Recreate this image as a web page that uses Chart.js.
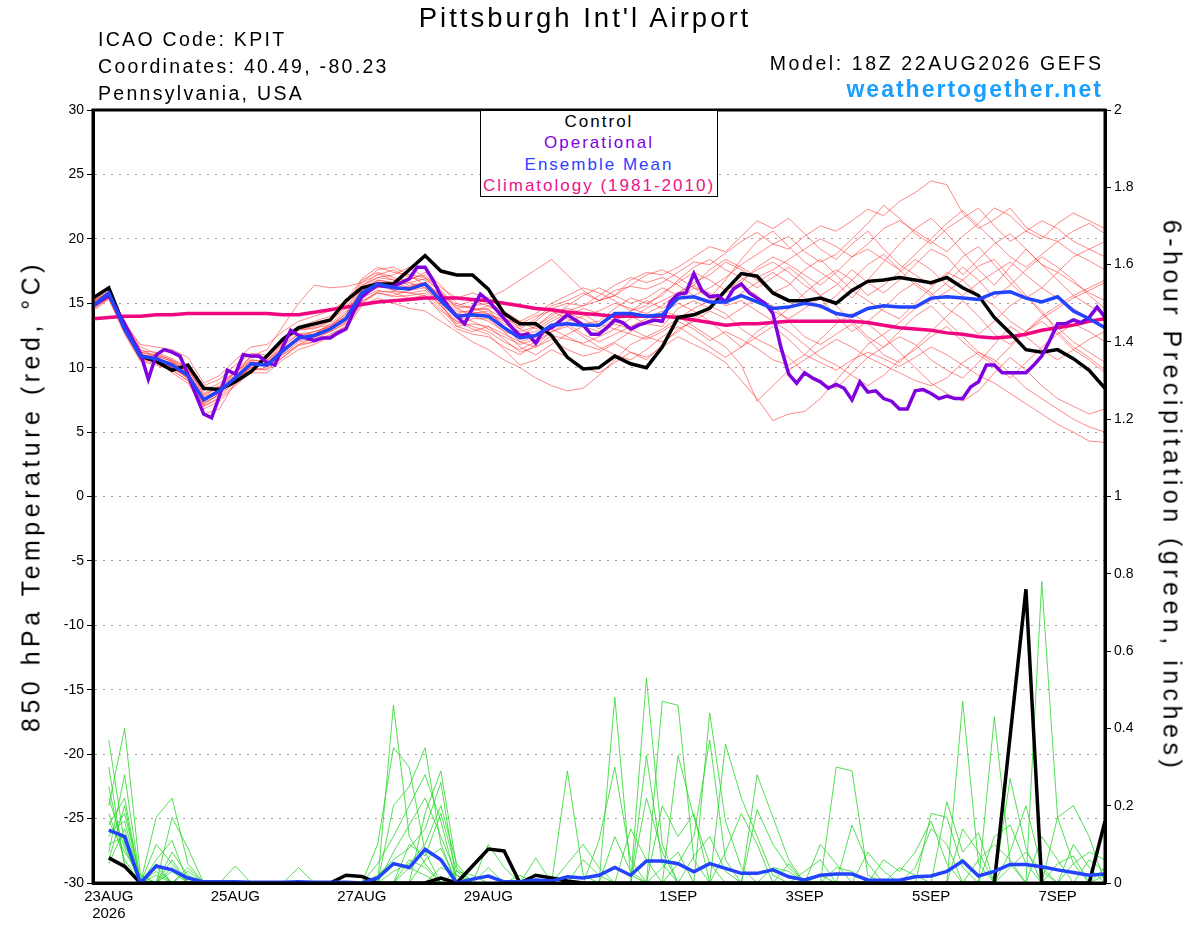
<!DOCTYPE html>
<html>
<head>
<meta charset="utf-8">
<title>Pittsburgh Int'l Airport - GEFS</title>
<script src="https://cdn.jsdelivr.net/npm/chart.js"></script>
<style>
body{margin:0;background:#fff;font-family:"Liberation Sans",Arial,Helvetica,sans-serif;}
#wrap{position:relative;width:1200px;height:927px;overflow:hidden;}
#myChart{position:absolute;left:0;top:0;}
.txt{position:absolute;white-space:nowrap;color:#000;}
.vt{font-size:25px;line-height:29px;}
#legendBox{position:absolute;left:480px;top:110px;width:236px;height:85px;border:1.5px solid #000;background:#fff;text-align:center;font-size:17px;line-height:21.4px;letter-spacing:2px;}
</style>
</head>
<body>
<div id="wrap">
<canvas id="myChart" width="1200" height="927"></canvas>
<div class="txt" style="left:335px;width:500px;text-align:center;top:4px;font-size:27.5px;line-height:28px;letter-spacing:3px">Pittsburgh Int'l Airport</div>
<div class="txt" style="left:98px;top:25.5px;font-size:19.5px;line-height:27px;letter-spacing:2.3px">ICAO Code: KPIT<br>Coordinates: 40.49, -80.23<br>Pennsylvania, USA</div>
<div class="txt" style="right:96.5px;top:50px;font-size:19.5px;line-height:27px;letter-spacing:2.6px;text-align:right">Model: 18Z 22AUG2026 GEFS</div>
<div class="txt" style="right:97px;top:76px;font-size:23px;line-height:27px;letter-spacing:2px;font-weight:bold;color:#1a9fff">weathertogether.net</div>
<div class="txt vt" style="left:31px;top:496px;transform:translate(-50%,-50%) rotate(-90deg);letter-spacing:4.5px">850 hPa Temperature (red, °C)</div>
<div class="txt vt" style="left:1172px;top:496px;transform:translate(-50%,-50%) rotate(90deg);letter-spacing:4.5px">6-hour Precipitation (green, inches)</div>
<div id="legendBox">
<div>Control</div>
<div style="color:#8000e0">Operational</div>
<div style="color:#2f3fff">Ensemble Mean</div>
<div style="color:#ee1188">Climatology (1981-2010)</div>
</div>
</div>
<script>
// hours after 18Z 22AUG2026
const xTickHours = [6, 54, 102, 150, 222, 270, 318, 366];
const xTickLabels = [['23AUG','2026'], '25AUG', '27AUG', '29AUG', '1SEP', '3SEP', '5SEP', '7SEP'];

// 850 hPa temperature, every 6 h
const controlTemp = [15.4,16.2,13.1,10.9,10.5,9.8,10.2,8.4,8.3,8.9,9.7,10.9,12.2,13.1,13.4,13.7,15.2,
  16.2,16.5,16.5,17.6,18.7,17.5,17.2,17.2,
  16.1,14.2,13.4,13.4,12.5,10.8,9.9,10.0,10.9,10.3,10.0,11.6,
  13.9,14.1,14.6,16.0,17.3,17.1,15.8,15.2,
  15.2,15.4,15.0,16.0,16.7,16.8,17.0,16.8,
  16.6,17.0,16.2,15.6,13.9,12.7,11.4,11.2,11.4,10.7,9.8,8.4];
const meanTemp = [14.8,15.8,13.0,10.9,10.7,10.2,9.4,7.5,8.2,9.2,10.3,10.2,11.3,12.3,12.5,13.0,13.8,
  15.8,16.5,16.2,16.1,16.5,15.2,14.0,14.1,
  14.0,13.1,12.3,12.5,13.3,13.4,13.3,13.3,14.2,14.2,14.0,14.1,
  15.4,15.5,15.1,15.1,15.6,15.1,14.6,14.7,
  15.0,14.8,14.2,14.0,14.6,14.8,14.7,14.7,
  15.4,15.5,15.4,15.3,15.8,15.9,15.4,15.1,15.5,14.4,13.8,13.1];
const climTemp = [13.8,13.9,14.0,14.0,14.1,14.1,14.2,14.2,14.2,14.2,14.2,14.2,14.1,14.1,14.3,14.5,14.7,
  14.9,15.1,15.2,15.3,15.4,15.4,15.4,15.3,
  15.2,15.0,14.8,14.6,14.5,14.3,14.2,14.1,14.0,14.0,14.0,14.0,
  13.9,13.7,13.5,13.3,13.4,13.4,13.5,13.6,
  13.6,13.6,13.6,13.6,13.5,13.3,13.1,13.0,
  12.9,12.7,12.6,12.4,12.3,12.4,12.6,12.9,13.1,13.3,13.6,13.8];
// operational run, every 3 h
const operTemp = [14.8,15.2,15.6,14.5,13.4,12.2,11.1,9.1,11.0,11.4,11.2,10.9,9.5,7.9,6.4,6.1,7.8,9.8,9.5,11.0,
  10.9,10.9,10.4,10.2,11.6,12.9,12.5,12.3,12.1,12.3,12.3,12.7,13.0,14.4,15.5,16.0,16.4,16.3,16.3,16.6,
  16.9,17.8,17.8,16.8,15.6,14.7,14.0,13.4,14.6,15.7,15.2,14.5,13.8,13.1,12.5,12.6,11.9,12.9,13.1,13.6,
  14.1,13.7,13.3,12.6,12.6,13.1,13.7,13.5,13.0,13.3,13.5,13.7,13.6,15.1,15.7,15.8,17.3,16.0,15.5,15.6,
  15.1,16.1,16.5,15.8,15.4,15.0,14.2,11.6,9.5,8.8,9.6,9.2,8.9,8.4,8.7,8.4,7.5,8.9,8.1,8.2,
  7.6,7.4,6.8,6.8,8.2,8.3,8.0,7.6,7.8,7.6,7.6,8.5,8.9,10.2,10.2,9.6,9.6,9.6,9.6,10.2,
  10.9,12.1,13.4,13.4,13.7,13.5,13.9,14.7,13.9];
// ensemble members, every 6 h
const memberTemp = [
  [15.0,15.6,13.3,11.2,11.0,10.6,9.9,8.0,8.6,9.8,10.9,10.8,12.0,13.0,13.2,13.6,14.6,
   16.4,17.0,16.8,16.9,17.2,16.0,14.8,14.6,
   14.5,13.8,13.2,13.6,14.6,15.0,14.8,15.2,16.0,16.3,16.1,16.6,
   17.4,18.2,18.0,18.9,19.8,20.5,19.6,19.2,
   20.2,21.0,20.6,21.4,22.3,21.8,22.9,23.6,
   24.5,24.2,22.0,20.8,21.5,22.4,20.9,20.2,19.8,18.9,18.3,17.6],
  [14.6,15.4,12.6,10.5,10.2,9.8,9.0,7.0,7.6,8.7,9.8,9.9,10.8,11.7,12.0,12.6,13.2,
   15.2,15.8,15.5,15.6,15.8,14.6,13.2,13.4,
   13.2,12.2,11.2,11.6,12.5,12.2,11.9,12.4,13.0,12.6,12.2,12.8,
   13.6,13.0,12.1,12.8,12.2,11.5,10.6,10.2,
   11.0,10.4,9.8,10.6,11.2,10.7,10.1,10.8,
   11.6,11.0,10.2,9.4,8.8,8.0,7.2,6.4,5.6,5.0,4.3,4.2],
  [15.2,15.9,13.5,11.4,10.9,10.0,9.4,7.3,7.9,9.3,10.6,10.4,11.6,12.6,12.8,13.2,14.0,
   15.9,16.7,16.3,16.0,16.4,15.0,13.8,14.2,
   14.4,13.2,12.0,11.6,12.2,11.4,10.9,11.2,11.9,11.2,10.8,11.6,
   12.4,11.8,11.2,10.4,9.0,7.6,5.9,6.4,
   6.6,7.6,9.0,10.4,11.8,12.6,13.5,14.6,
   15.2,15.9,16.8,17.9,18.4,17.0,15.6,14.2,13.1,12.0,11.2,10.4],
  [14.9,15.7,13.1,11.0,10.9,10.5,9.7,7.7,8.3,9.0,10.1,10.6,11.9,12.9,13.1,13.3,14.2,
   16.0,16.6,16.0,16.2,16.6,15.6,14.4,14.3,
   14.2,13.6,13.0,13.8,14.8,15.2,15.8,15.2,15.6,16.8,17.4,17.2,
   17.8,18.6,19.4,19.0,20.2,21.4,20.8,21.6,
   20.4,19.2,18.4,19.6,20.6,19.2,18.0,17.2,
   16.4,17.2,18.6,19.4,18.0,16.6,15.4,16.2,17.4,18.6,19.2,19.8],
  [14.7,15.5,12.8,10.8,10.5,10.1,9.2,7.2,7.9,9.5,10.9,11.4,13.2,15.0,16.4,16.2,16.3,
   16.6,17.2,17.6,17.0,16.8,15.4,14.0,13.6,
   13.0,12.4,11.8,12.2,13.0,13.6,14.0,14.4,15.0,14.6,14.2,14.8,
   15.8,16.6,17.2,18.2,17.6,16.8,15.8,16.4,
   17.6,18.4,17.2,16.0,15.2,14.4,13.8,15.0,
   16.2,17.4,16.8,15.6,14.8,13.6,12.8,13.8,14.6,15.4,16.0,16.6],
  [15.1,15.8,13.2,11.1,10.6,10.3,9.6,7.6,8.0,8.8,9.8,10.0,11.0,12.0,12.2,12.8,13.5,
   15.6,16.2,16.4,16.6,16.2,14.8,13.6,13.0,
   12.6,11.4,10.2,10.6,11.4,10.8,10.0,9.6,10.4,11.2,10.6,11.8,
   13.0,13.6,14.4,13.8,14.6,15.4,14.8,13.6,
   12.4,11.8,12.6,13.4,12.2,11.0,10.4,11.6,
   12.8,14.0,15.2,14.0,12.6,11.8,12.8,14.0,14.8,15.6,16.2,16.8],
  [14.4,15.3,12.7,10.6,10.6,10.4,9.8,8.2,8.8,9.6,10.5,10.2,11.4,12.4,12.4,13.0,13.9,
   16.2,17.0,17.2,17.8,17.0,15.8,14.6,14.8,
   15.0,14.4,13.6,13.0,13.8,14.4,14.8,15.6,16.4,17.0,16.6,17.0,
   16.4,15.6,16.2,17.0,18.0,18.8,19.6,20.2,
   19.0,18.2,18.8,20.0,21.2,22.6,21.6,20.4,
   19.6,20.8,21.6,22.4,21.0,19.8,20.6,21.4,20.8,19.8,19.2,18.6],
  [15.0,15.6,13.0,10.9,10.8,10.2,9.1,6.4,6.8,8.9,10.0,9.8,10.8,11.8,12.3,12.9,13.6,
   15.4,16.0,15.8,15.4,15.6,14.2,13.0,12.6,
   12.4,11.6,11.0,11.8,12.8,13.4,12.6,12.0,12.6,13.2,13.8,14.4,
   14.0,13.2,12.4,11.6,10.2,7.4,8.6,9.8,
   10.6,11.4,12.2,11.6,10.8,10.2,9.6,9.0,
   8.6,9.2,10.4,11.2,10.6,9.6,8.4,7.6,6.8,6.0,5.4,5.0],
  [14.8,15.7,13.4,11.3,11.2,10.7,10.0,8.6,9.1,10.2,11.1,11.0,12.2,13.0,13.0,13.6,14.8,
   16.8,17.4,17.0,16.6,16.9,15.9,14.6,14.0,
   14.0,13.8,13.4,14.0,14.4,13.8,13.4,13.6,14.6,15.4,15.0,15.6,
   16.8,17.8,18.4,17.6,17.0,16.2,17.0,17.8,
   16.8,15.6,16.4,17.6,16.6,15.8,16.8,18.0,
   19.2,18.6,17.2,18.4,19.6,20.4,19.2,18.0,17.4,16.6,15.8,15.2],
  [14.5,15.4,12.9,10.7,10.4,9.9,9.3,7.0,7.7,9.0,10.3,10.6,11.5,12.3,12.6,13.1,13.7,
   15.5,16.4,16.2,16.3,16.6,15.2,14.2,14.5,
   14.6,13.0,12.6,12.8,13.6,14.2,13.8,13.0,13.8,14.0,13.4,13.2,
   14.6,15.2,14.6,15.8,16.4,15.6,14.4,13.8,
   14.6,15.4,14.0,12.8,13.6,14.6,15.8,16.6,
   15.8,14.6,13.8,12.6,13.6,14.8,15.6,14.4,12.8,11.6,10.8,9.8],
  [15.3,16.0,13.6,11.6,11.1,10.6,9.9,7.9,8.5,9.4,10.4,10.1,11.1,12.2,12.6,13.2,14.2,
   16.1,16.8,16.6,16.8,17.4,16.4,15.0,14.6,
   14.2,13.4,12.8,13.2,14.0,14.8,15.6,16.2,15.6,15.0,15.4,16.2,
   15.6,16.4,17.6,18.4,17.8,17.0,17.6,18.4,
   19.2,20.0,19.4,18.6,19.6,20.8,21.4,20.6,
   19.8,19.0,20.2,21.2,22.4,21.8,20.6,20.0,21.2,22.0,21.4,20.8],
  [14.9,15.5,12.9,10.8,10.7,10.4,9.5,7.4,8.2,9.1,10.0,10.3,11.3,12.1,12.4,12.8,13.4,
   15.1,15.9,15.9,15.8,16.0,14.8,13.4,13.8,
   13.8,12.8,11.6,11.0,11.8,12.6,13.2,12.8,13.4,13.0,12.4,12.0,
   12.8,13.8,14.8,14.2,13.0,12.2,11.6,10.8,
   9.6,8.8,8.4,9.6,10.8,11.6,12.4,11.8,
   10.6,9.8,9.2,10.4,11.8,13.2,12.4,11.4,10.6,11.4,12.2,12.8],
  [15.0,15.8,13.2,11.0,10.8,10.0,9.2,7.5,8.4,9.7,10.6,10.5,11.8,12.6,12.6,13.4,14.4,
   16.3,17.3,16.8,16.4,16.6,15.2,13.9,14.4,
   14.8,14.2,13.0,12.4,13.2,14.0,14.6,14.2,13.6,14.4,15.2,14.6,
   15.2,16.2,15.8,15.0,15.8,16.6,17.4,16.6,
   15.4,14.6,15.6,16.8,18.0,18.8,17.6,16.4,
   15.6,16.6,17.8,16.8,15.4,16.4,17.6,18.6,17.8,16.8,15.6,14.6],
  [14.6,15.5,12.8,10.6,10.3,9.8,9.0,7.1,8.0,9.3,10.4,10.2,11.0,11.8,12.0,12.5,13.2,
   15.0,15.8,15.6,16.0,16.2,15.0,13.2,12.8,
   13.2,12.6,12.0,12.4,13.0,12.4,11.8,11.4,12.0,12.8,13.6,14.2,
   15.0,14.4,13.6,12.6,11.6,12.4,13.2,12.2,
   11.0,12.2,13.4,14.2,13.4,12.4,11.2,10.0,
   8.8,8.0,7.4,8.2,9.6,10.8,9.8,8.6,7.6,7.0,6.4,6.8],
  [15.1,15.9,13.4,11.8,11.6,11.4,10.8,8.8,9.4,10.6,11.6,11.8,12.8,13.6,14.0,14.4,15.2,
   16.9,17.8,17.4,17.2,17.0,16.2,15.4,15.8,
   15.4,16.0,16.8,17.6,18.4,17.2,16.0,15.2,15.6,16.4,17.2,17.6,
   17.0,16.2,15.4,16.8,18.4,19.8,20.6,19.4,
   18.2,17.4,16.6,15.4,16.8,18.2,19.6,20.8,
   21.6,20.4,19.0,17.6,16.4,17.8,19.2,18.0,16.8,15.6,14.8,14.2],
  [14.7,15.6,13.0,10.9,10.6,9.6,8.8,6.8,7.4,8.6,9.6,9.6,10.6,11.4,11.8,12.4,13.0,
   14.8,15.4,15.0,14.6,14.4,13.6,12.8,12.0,
   11.4,10.6,10.0,9.2,8.6,8.2,8.4,9.4,10.6,11.8,12.4,13.0,
   13.8,14.6,15.2,16.0,16.8,17.6,18.2,17.4,
   16.4,15.6,14.8,13.6,12.4,11.6,12.8,14.0,
   14.8,13.6,12.4,11.2,10.4,11.6,12.8,13.6,12.6,11.4,10.6,9.6],
  [15.2,15.8,13.3,11.2,10.9,10.5,9.6,7.8,8.5,9.6,10.8,10.8,12.0,13.2,13.6,14.0,15.0,
   16.6,17.6,17.8,17.2,16.4,15.6,14.8,15.2,
   14.8,14.0,13.6,14.2,15.0,15.6,16.2,15.8,15.2,14.4,14.8,15.8,
   16.6,17.4,16.8,16.0,16.6,17.8,18.6,18.0,
   17.2,16.4,17.4,18.6,19.2,18.4,17.6,18.8,
   20.0,21.2,22.2,21.0,19.8,18.6,17.8,18.8,19.8,20.6,21.2,20.4],
  [14.9,15.6,13.0,10.8,10.5,10.0,9.4,7.6,8.2,9.0,10.0,10.4,11.4,12.2,12.6,13.0,13.8,
   15.6,16.4,16.0,15.8,15.6,14.4,13.6,13.2,
   12.8,12.0,11.4,12.0,12.8,13.2,12.4,11.6,11.0,10.6,11.4,12.4,
   13.2,12.4,11.6,10.8,11.6,12.8,13.6,12.8,
   11.8,10.8,10.2,9.4,8.6,9.4,10.6,11.4,
   12.4,13.2,12.0,11.0,10.2,9.2,10.4,11.6,12.6,13.4,12.8,12.0],
  [14.8,15.7,13.1,11.0,10.7,10.3,9.5,7.4,8.1,9.2,10.4,10.3,11.4,12.4,12.8,13.2,14.0,
   15.9,16.8,16.6,16.2,16.6,15.6,14.2,14.0,
   13.6,12.8,12.4,13.2,14.2,14.6,14.2,13.4,13.0,13.8,14.6,15.2,
   15.8,16.4,15.6,14.8,15.2,14.4,13.6,14.6,
   15.8,16.8,17.6,16.8,15.6,16.4,17.4,18.4,
   17.6,16.4,15.6,16.6,17.4,18.2,17.2,16.2,15.4,14.6,13.8,13.2]
];

// 6-hour precipitation (inches), every 6 h, no value at hour 0
const controlPrecip = [null,.065,.043,0,0, 0,0,0,0,0, 0,0,0,0,0, 0,.02,.017,0,0,
  0,0,.013,0,.044, .088,.083,0,.02,.013, .005,0,0,0,0, 0,0,0,0,0,
  0,0,0,0,0, 0,0,0,0,0, 0,0,0,0,0, 0,0,0,.38,.76, 0,0,0,0,.16];
const meanPrecip = [null,.137,.12,0,.044, .034,.013,.003,.003,.003, .002,.002,.002,.003,.002, .002,.002,0,.013,.05,
  .04,.087,.06,0,.01, .018,.003,.003,.008,.005, .016,.013,.02,.04,.02, .057,.057,.05,.029,.05,
  .038,.025,.025,.034,.016, .008,.02,.023,.023,.008, .007,.007,.016,.018,.03, .057,.018,.03,.048,.048,
  .042,.034,.027,.02,.023];
const memberPrecip = [
  [null,.37,.10,0,.17, .22,.05,0,0,0, 0,0,0,0,0, 0,0,0,0,.46, .12,.05,0,0,0, 0,0,0,0,0, 0,0,0,.48,.02, 0,0,0,0,0, 0,0,0,0,0, 0,0,0,0,0, 0,0,0,0,0, 0,0,.43,.05,0, 0,0,0,0,0],
  [null,.20,.40,.02,0, .17,.09,0,0,0, 0,0,0,0,0, 0,0,0,.10,.35, .30,.08,0,0,0, 0,0,0,0,0, 0,0,0,0,0, .53,.10,0,0,0, 0,0,0,0,0, 0,0,0,0,0, 0,0,0,0,0, 0,0,0,0,0, .78,.17,.05,0,0],
  [null,.15,.22,0,.10, .05,0,0,0,.044, 0,0,0,0,0, 0,0,0,0,.20, .25,.35,.10,0,0, 0,0,0,0,0, 0,0,0,0,0, 0,.47,.46,.06,0, 0,0,0,0,0, 0,0,0,0,0, 0,0,0,0,0, .47,.05,0,0,0, 0,0,0,0,0],
  [null,.25,.05,0,.06, .11,0,0,0,0, 0,0,0,0,0, 0,0,0,0,0, 0,.18,.29,.04,0, 0,0,0,0,0, .29,.02,0,0,0, 0,0,.33,.17,.05, 0,0,0,0,0, 0,0,.30,.29,.02, 0,0,0,0,0, 0,0,0,0,0, 0,0,0,0,0],
  [null,.12,.18,.01,0, 0,.03,0,0,0, 0,0,0,.04,0, 0,0,0,.05,.12, .20,.28,.16,0,0, 0,0,0,0,0, 0,0,0,0,0, 0,0,0,0,.44, .16,.04,0,0,0, 0,0,0,0,0, 0,0,0,0,0, 0,0,0,.27,.09, 0,0,0,0,0],
  [null,.18,.06,0,.02, 0,0,0,0,0, 0,0,0,0,0, 0,0,0,0,.08, .15,.22,.12,.02,0, 0,0,0,0,0, 0,0,0,0,0, .33,.05,0,0,0, .36,.22,.12,.02,0, 0,0,0,0,0, 0,0,0,.18,.17, .04,0,0,0,0, 0,0,0,0,0],
  [null,.10,.12,0,0, .06,0,0,0,0, 0,0,0,0,0, 0,0,0,0,0, .10,.07,.18,.03,0, 0,0,0,0,0, 0,0,.11,.30,.06, 0,0,0,0,0, 0,0,.28,.17,.06, 0,0,0,0,0, 0,0,0,0,0, 0,0,0,0,0, 0,.17,.20,.12,0],
  [null,.08,.28,0,.03, 0,0,0,0,0, 0,0,0,0,0, 0,0,0,.02,.06, .09,.14,.26,0,0, .10,.04,0,0,0, 0,0,0,0,0, 0,0,.05,.12,.37, .06,0,0,0,0, 0,0,0,.15,.05, 0,0,0,0,.21, .08,.13,0,0,0, 0,0,0,0,0],
  [null,.05,.14,0,0, .03,0,0,0,0, 0,0,0,0,0, 0,0,0,0,0, 0,.06,.09,0,0, 0,0,0,.065,0, 0,0,0,0,0, .22,.08,0,0,0, 0,0,.19,.10,.04, 0,.10,.05,0,0, 0,0,0,0,0, 0,0,.12,.15,.05, 0,0,.05,.08,.06],
  [null,.22,.09,0,.04, 0,0,0,0,0, 0,0,0,0,0, 0,0,0,0,.03, .05,.10,.20,.05,0, 0,0,0,0,0, .05,.10,.04,0,0, 0,.20,.12,.18,0, 0,0,0,0,0, 0,0,0,0,0, .06,.03,.08,.16,.05, 0,0,0,0,0, .12,.06,0,0,0],
  [null,.13,.16,0,0, .08,.02,0,0,0, 0,0,0,0,0, 0,0,0,0,0, 0,0,0,.03,.02, 0,0,0,0,0, 0,0,0,0,.14, .06,0,0,0,0, .08,.18,.10,0,0, .03,.06,0,0,.08, .03,0,0,0,0, 0,.06,.10,.06,0, 0,0,.10,.04,0],
  [null,.30,.04,0,0, 0,.04,0,0,0, 0,0,0,0,0, 0,0,0,0,0, .04,.02,0,0,0, 0,0,.02,0,0, 0,.06,.02,0,0, 0,0,0,0,0, 0,0,0,.04,.03, 0,0,0,0,0, 0,0,.04,.14,.10, 0,0,0,.04,.08, .03,0,0,.06,.03],
  [null,.16,.08,.02,0, .04,0,0,0,0, 0,0,0,0,0, 0,0,0,0,0, 0,0,.04,.02,0, 0,0,0,0,0, 0,0,0,.12,.03, 0,0,0,.07,.12, .03,0,0,0,0, 0,0,.04,.03,0, 0,0,0,0,0, .14,.08,0,0,0, 0,.05,.07,0,.02],
  [null,.06,.20,0,.05, 0,0,0,0,0, 0,0,0,0,0, 0,0,0,0,0, .06,.04,0,0,0, .04,0,0,0,0, 0,0,0,0,0, 0,.04,.08,0,0, 0,0,0,0,.05, 0,.02,0,0,0, 0,.04,.02,0,0, 0,0,0,.08,.20, .04,0,0,0,.04]
];

Chart.defaults.font.family = "'Liberation Sans', Arial, Helvetica, sans-serif";
Chart.defaults.color = '#000';

function series(vals, step) {
  return vals.map(function(v, i) { return {x: i * step, y: v}; });
}

var datasets = [
  {label: 'Ensemble Mean', data: series(meanTemp, 6), yAxisID: 'yT', borderColor: '#2244ff', borderWidth: 3.5, order: 0},
  {label: 'Operational', data: series(operTemp, 3), yAxisID: 'yT', borderColor: '#8000e0', borderWidth: 3.5, order: 1},
  {label: 'Control', data: series(controlTemp, 6), yAxisID: 'yT', borderColor: '#000000', borderWidth: 3.5, order: 2},
  {label: 'Climatology', data: series(climTemp, 6), yAxisID: 'yT', borderColor: '#f0047f', borderWidth: 3.5, order: 3},
  {label: 'Mean precip', data: series(meanPrecip, 6), yAxisID: 'yP', borderColor: '#2244ff', borderWidth: 3.5, order: 0},
  {label: 'Control precip', data: series(controlPrecip, 6), yAxisID: 'yP', borderColor: '#000000', borderWidth: 3.5, order: 1}
];
memberPrecip.forEach(function(m, k) {
  datasets.push({label: 'precip member ' + (k + 1), data: series(m, 6), yAxisID: 'yP', borderColor: 'rgb(40,215,40)', borderWidth: 0.8, order: 5});
});
memberTemp.forEach(function(m, k) {
  datasets.push({label: 'member ' + (k + 1), data: series(m, 6), yAxisID: 'yT', borderColor: 'rgba(255,55,55,0.75)', borderWidth: 0.8, order: 6});
});

const frame = {
  id: 'frame',
  afterDatasetsDraw: function(chart) {
    var a = chart.chartArea, c = chart.ctx;
    c.save();
    c.strokeStyle = '#000';
    c.lineWidth = 3;
    c.strokeRect(a.left, a.top, a.right - a.left, a.bottom - a.top);
    c.restore();
  }
};

const CHART = document.getElementById('myChart');
let chart = new Chart(CHART, {
  type: 'line',
  data: {datasets: datasets},
  plugins: [frame],
  options: {
    responsive: false,
    animation: false,
    devicePixelRatio: 1,
    layout: {padding: {top: 110, left: 0, right: 0, bottom: 0}},
    elements: {point: {radius: 0}, line: {tension: 0, fill: false}},
    plugins: {legend: {display: false}, title: {display: false}, tooltip: {enabled: false}},
    scales: {
      x: {
        type: 'linear', min: 0, max: 384,
        afterBuildTicks: function(axis) { axis.ticks = xTickHours.map(function(h) { return {value: h}; }); },
        afterFit: function(axis) { axis.height = 44; },
        grid: {display: false, drawTicks: false},
        border: {display: true, color: '#000', width: 3},
        ticks: {
          autoSkip: false, maxRotation: 0, padding: 6, color: '#000', font: {size: 15, lineHeight: 1.1},
          callback: function(v) { var k = xTickHours.indexOf(v); return k >= 0 ? xTickLabels[k] : ''; }
        }
      },
      yT: {
        type: 'linear', position: 'left', min: -30, max: 30,
        afterFit: function(axis) { axis.width = 93; },
        grid: {color: '#a0a0a0', lineWidth: 1, tickColor: '#000', tickLength: 6, tickWidth: 1, tickBorderDash: []},
        border: {display: true, color: '#000', width: 3, dash: [2, 6]},
        ticks: {stepSize: 5, padding: 3, color: '#000', font: {size: 14}, callback: function(v) { return String(v); }}
      },
      yP: {
        type: 'linear', position: 'right', min: 0, max: 2,
        afterFit: function(axis) { axis.width = 95; },
        grid: {drawOnChartArea: false, tickColor: '#000', tickLength: 6, tickWidth: 1},
        border: {display: true, color: '#000', width: 3},
        ticks: {stepSize: 0.2, padding: 3, color: '#000', font: {size: 14}, callback: function(v) { return String(+v.toFixed(1)); }}
      }
    }
  }
});
</script>
</body>
</html>
